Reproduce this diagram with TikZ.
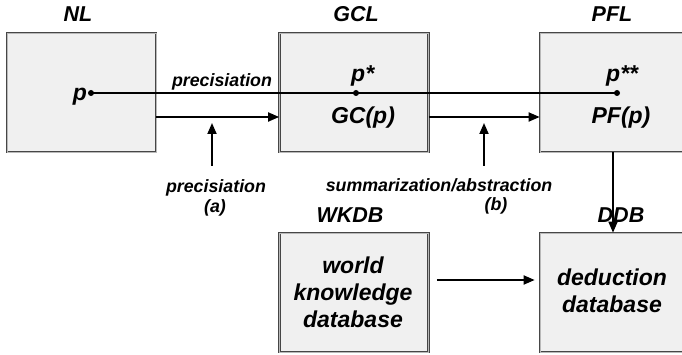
\documentclass[tikz,border=0pt]{standalone}
\usepackage{fontspec}
\setmainfont{Liberation Sans}
\usetikzlibrary{arrows.meta}
\tikzset{
  box/.style={draw=gray!55!black, double=gray!55, double distance=0.9pt, line width=0.7pt,
    fill=gray!12, minimum width=149pt, minimum height=119pt, inner sep=0pt, align=center,
    font=\fontsize{23}{27}\selectfont\bfseries\itshape},
  ttl/.style={font=\fontsize{21.5}{26}\selectfont\bfseries\itshape, inner sep=0pt},
  big/.style={font=\fontsize{23}{27}\selectfont\bfseries\itshape, inner sep=0pt},
  lbl/.style={font=\fontsize{17.8}{21}\selectfont\bfseries\itshape, inner sep=0pt},
  arr/.style={line width=1.8pt, -{Triangle[length=11pt,width=9pt]}},
  pdot/.style={circle, fill=black, inner sep=0pt, minimum size=6pt},
}
\begin{document}
\begin{tikzpicture}[x=1pt,y=-1pt]
\useasboundingbox (0,0) rectangle (682,355);
% boxes
\node[box] (nl)  at (81.5,92.5) {};
\node[box] (gcl) at (354,92.5) {};
\node[box] (pfl) at (614.5,92.5) {};
\node[box] (wkdb) at (354,292.5) {};
\node[box] (ddb) at (614.5,292.5) {};
% titles
\node[ttl, anchor=base] (tnl)  at (78,22)  {NL};
\node[ttl, anchor=base] (tgcl) at (356,22) {GCL};
\node[ttl, anchor=base] (tpfl) at (612,22) {PFL};
\node[ttl, anchor=base] (twk)  at (350,223) {WKDB};
\node[ttl, anchor=base] (tddb) at (621,223) {DDB};
% box contents
\node[big, align=center] (wtxt) at (353,292) {world\\knowledge\\database};
\node[big, align=center] (dtxt) at (612,291) {deduction\\database};
\node[big, anchor=base east] (p) at (87,101) {p};
\node[big, anchor=base west] (ps) at (351,82) {p*};
\node[big, anchor=base west] (pss) at (606,82) {p**};
\node[big, anchor=base] (gcp) at (363,124) {GC(p)};
\node[big, anchor=base] (pfp) at (621,124) {PF(p)};
% dots and line
\node[pdot] (d1) at (91,93) {};
\node[pdot] (d2) at (356,93) {};
\node[pdot] (d3) at (617,93) {};
\draw[line width=1.8pt] (d1.center) -- (d2.center) -- (d3.center);
\node[lbl, anchor=base] (prec1) at (222,87) {precisiation};
% horizontal arrows
\coordinate (ay) at (0,117);
\draw[arr] (nl.east |- ay) -- (gcl.west |- ay);
\draw[arr] (gcl.east |- ay) -- (pfl.west |- ay);
% lower labels
\node[lbl, anchor=base] (prec2) at (216,193) {precisiation};
\node[lbl, anchor=base] (la) at (215,213) {(a)};
\node[lbl, anchor=base] (summ) at (439,192) {summarization/abstraction};
\node[lbl, anchor=base] (lb) at (496,211) {(b)};
% up arrows
\coordinate (ta) at (212,123);
\coordinate (ba) at (212,166);
\coordinate (tb) at (484,123);
\coordinate (bb) at (484,166);
\draw[arr] (ba) -- (ta);
\draw[arr] (bb) -- (tb);
% down arrow and database arrow
\draw[arr] ([xshift=-1.5pt]pfl.south) -- ([xshift=-1.5pt]ddb.north);
\draw[arr] ([xshift=8pt,yshift=12.5pt]wkdb.east) -- ([xshift=-5pt,yshift=12.5pt]ddb.west);
\end{tikzpicture}
\end{document}
